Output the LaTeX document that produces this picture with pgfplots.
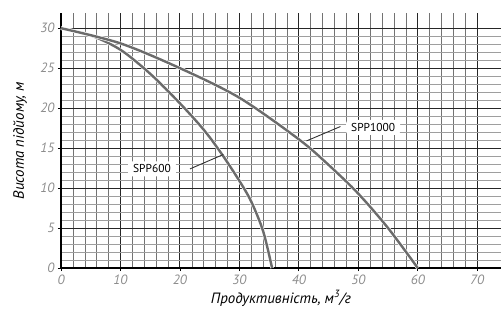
\documentclass[border=0pt]{standalone}
\usepackage{fontspec}
\setmainfont{PT Sans}
\usepackage{pgfplots}
\pgfplotsset{compat=1.18}
\begin{document}
\begin{tikzpicture}
\begin{axis}[
 scale only axis, width=440bp, height=255bp,
 xmin=0, xmax=74, ymin=0, ymax=31.9,
 axis lines=left, axis line style={-, black, line width=1.2bp},
 xtick={0,10,...,70}, ytick={0,5,...,30},
 minor x tick num=4, minor y tick num=4,
 grid=both,
 major grid style={black!85, line width=1bp},
 minor x grid style={black!55, line width=0.5bp},
 minor y grid style={black!38, line width=0.5bp},
 tick align=outside, major tick length=3bp, minor tick length=0pt,
 tick style={black, line width=0.8bp},
 /pgf/number format/assume math mode=true,
 ticklabel style={font=\fontsize{13.5}{15}\selectfont\itshape, text=black!45},
 xlabel={Продуктивність, м\textsuperscript{3}/г},
 ylabel={Висота підйому, м},
 label style={font=\fontsize{15}{18}\selectfont\itshape},
 xlabel style={at={(axis description cs:0.5,0)}, anchor=base, yshift=-35bp},
 ylabel style={at={(axis description cs:0,0.5)}, anchor=center, yshift=41bp},
 clip=false,
]
% SPP600
\addplot[white, line width=3.6bp, smooth] coordinates {(0,30) (5,29.1) (10,27.3) (15,24.3) (20,20.6) (24,17.3) (27,14.3) (30,10.9) (32,8.3) (34,4.6) (35.5,0)};
\addplot[black!58, line width=2.4bp, smooth] coordinates {(0,30) (5,29.1) (10,27.3) (15,24.3) (20,20.6) (24,17.3) (27,14.3) (30,10.9) (32,8.3) (34,4.6) (35.5,0)};
% SPP1000
\addplot[white, line width=3.6bp, smooth] coordinates {(0,30) (10,28.1) (20,25.0) (30,21.3) (40,16.1) (45,12.9) (50,9.3) (55,5.0) (60,0)};
\addplot[black!58, line width=2.4bp, smooth] coordinates {(0,30) (10,28.1) (20,25.0) (30,21.3) (40,16.1) (45,12.9) (50,9.3) (55,5.0) (60,0)};
% leader lines
\addplot[black!80, line width=0.9bp] coordinates {(47.0,17.7) (41.3,15.9)};
\addplot[black!80, line width=0.9bp] coordinates {(21.7,12.4) (27.3,14.2)};
\node[fill=white, rounded corners=3bp, inner xsep=5bp, font=\fontsize{11.5}{13}\selectfont] at (axis cs:52.5,17.6) {SPP1000};
\node[fill=white, rounded corners=3bp, inner xsep=5bp, font=\fontsize{11.5}{13}\selectfont] at (axis cs:15.3,12.4) {SPP600};
\end{axis}
\pgfresetboundingbox
\path (current axis.south west) ++(-61bp,-44bp) (current axis.north east) ++(0bp,13bp);
\end{tikzpicture}
\end{document}
